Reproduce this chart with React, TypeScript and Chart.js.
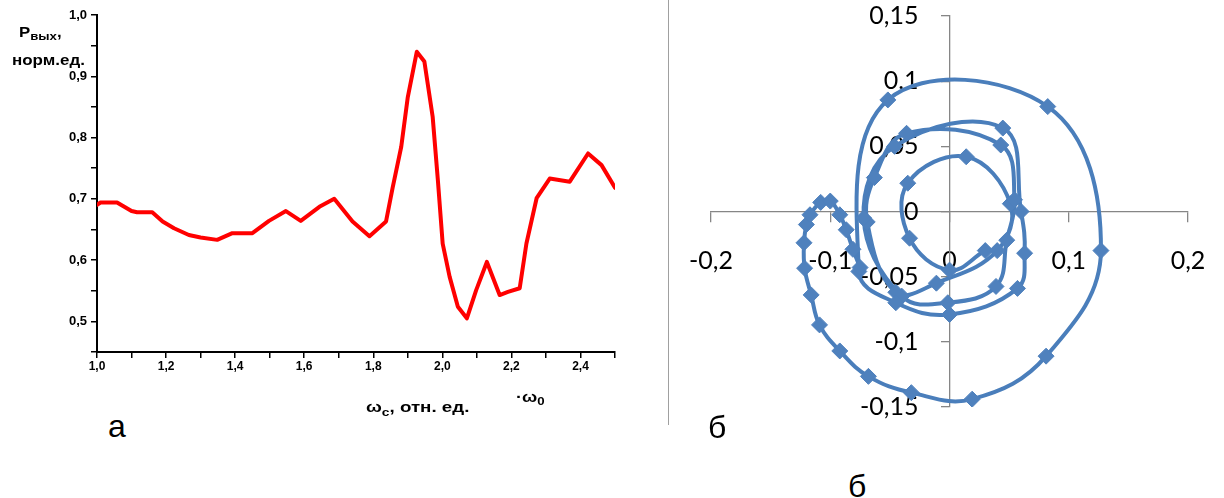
import React, { useEffect, useRef } from "react";
import { Chart, registerables } from "chart.js";

Chart.register(...registerables);

// ---------- Left chart (а): output power vs. signal frequency ----------
const freq = [
  1.0, 1.01, 1.058, 1.1, 1.116, 1.16, 1.19, 1.223, 1.266, 1.3, 1.348, 1.392,
  1.45, 1.498, 1.547, 1.59, 1.644, 1.687, 1.74, 1.789, 1.837, 1.856, 1.881,
  1.9, 1.926, 1.948, 1.972, 1.987, 2.001, 2.021, 2.045, 2.071, 2.098, 2.129,
  2.166, 2.19, 2.224, 2.2435, 2.273, 2.311, 2.369, 2.422, 2.461, 2.5,
];
const power = [
  0.69, 0.694, 0.694, 0.68, 0.678, 0.678, 0.663, 0.652, 0.641, 0.637, 0.633,
  0.644, 0.644, 0.664, 0.68, 0.664, 0.687, 0.7, 0.663, 0.639, 0.663, 0.718,
  0.785, 0.866, 0.94, 0.924, 0.834, 0.731, 0.627, 0.573, 0.524, 0.505, 0.551,
  0.597, 0.543, 0.548, 0.554, 0.627, 0.701, 0.733, 0.728, 0.774, 0.755, 0.718,
];
const leftXTicks = [1.0, 1.1, 1.2, 1.3, 1.4, 1.5, 1.6, 1.7, 1.8, 1.9, 2.0, 2.1, 2.2, 2.3, 2.4, 2.5];
const leftXLabels = ["1,0", "", "1,2", "", "1,4", "", "1,6", "", "1,8", "", "2,0", "", "2,2", "", "2,4", ""];
const leftYTicks = [0.45, 0.5, 0.55, 0.6, 0.65, 0.7, 0.75, 0.8, 0.85, 0.9, 0.95, 1.0];
const leftYLabels = ["", "0,5", "", "0,6", "", "0,7", "", "0,8", "", "0,9", "", "1,0"];

// ---------- Right chart (б): phase portrait ----------
const phaseX = [
  0.030, 0.0, -0.0335, -0.035, 0.014, 0.051, 0.040, -0.011,
  -0.045, -0.069, -0.063, -0.036, 0.043, 0.0545, 0.048, 0.039,
  -0.0014, -0.040, -0.072, -0.046, 0.0447, 0.060, 0.063, 0.057, 0.0, -0.045, -0.076,
  -0.0517, 0.0824, 0.127, 0.081, 0.019, -0.032, -0.068, -0.092, -0.109, -0.116,
  -0.1215, -0.122, -0.12, -0.117, -0.108, -0.1, -0.092, -0.0866, -0.081, -0.075,
];
const phaseY = [
  -0.030, -0.045, -0.0205, 0.0217, 0.042, 0.006, -0.030, -0.055,
  -0.062, -0.008, 0.026, 0.06, 0.051, 0.009, -0.022, -0.0575,
  -0.07, -0.065, -0.005, 0.050, 0.064, 0.0, -0.032, -0.059, -0.079, -0.07, -0.046,
  0.0856, 0.0805, -0.03, -0.111, -0.144, -0.139, -0.1265, -0.107, -0.087, -0.064,
  -0.0435, -0.024, -0.01, -0.0025, 0.007, 0.008, -0.0025, -0.014, -0.029, -0.043,
];
const rightXTicks = [-0.2, -0.1, 0, 0.1, 0.2];
const rightXLabels = ["-0,2", "-0,1", "0", "0,1", "0,2"];
const rightYTicks = [-0.15, -0.1, -0.05, 0, 0.05, 0.1, 0.15];
const rightYLabels = ["-0,15", "-0,1", "-0,05", "0", "0,05", "0,1", "0,15"];

const boldFont = { family: "'Liberation Sans', Arial, sans-serif", size: 12, weight: "bold" as const };
const boldFontY = { family: "'Liberation Sans', Arial, sans-serif", size: 13, weight: "bold" as const };
const excelFont = { family: "Lato, 'Open Sans', sans-serif", size: 25 };

const zeroPad = (s: any) => {
  s.paddingTop = 0;
  s.paddingBottom = 0;
  s.paddingLeft = 0;
  s.paddingRight = 0;
};

function LeftChart() {
  const ref = useRef<HTMLCanvasElement | null>(null);
  useEffect(() => {
    if (!ref.current) return;
    const chart = new Chart(ref.current, {
      type: "line",
      data: {
        datasets: [
          {
            data: freq.map((x, i) => ({ x, y: power[i] })),
            borderColor: "#ff0000",
            borderWidth: 4,
            pointRadius: 0,
            tension: 0,
            borderJoinStyle: "round",
            borderCapStyle: "round",
          },
        ],
      },
      options: {
        animation: false,
        responsive: false,
        maintainAspectRatio: false,
        layout: { padding: { left: 0, top: 15, right: 25, bottom: 0 } },
        plugins: { legend: { display: false }, tooltip: { enabled: false } },
        scales: {
          x: {
            type: "linear",
            min: 1.0,
            max: 2.5,
            afterFit: (s: any) => {
              s.height = 48;
            },
            afterBuildTicks: (s: any) => {
              s.ticks = leftXTicks.map((v) => ({ value: v }));
            },
            ticks: {
              autoSkip: false,
              maxRotation: 0,
              padding: 1,
              color: "#000",
              font: boldFont,
              callback: (_v: any, i: number) => leftXLabels[i],
            },
            grid: { drawOnChartArea: false, drawTicks: true, tickLength: 6, color: "#000", lineWidth: 1.5 },
            border: { display: true, color: "#000", width: 2 },
          },
          y: {
            type: "linear",
            min: 0.45,
            max: 1.0,
            afterFit: (s: any) => {
              s.width = 97;
            },
            afterBuildTicks: (s: any) => {
              s.ticks = leftYTicks.map((v) => ({ value: v }));
            },
            ticks: {
              autoSkip: false,
              padding: 4,
              color: "#000",
              font: boldFontY,
              callback: (_v: any, i: number) => leftYLabels[i],
            },
            grid: { drawOnChartArea: false, drawTicks: true, tickLength: 6, color: "#000", lineWidth: 1.5 },
            border: { display: true, color: "#000", width: 2 },
          },
        },
      },
    });
    return () => chart.destroy();
  }, []);
  return <canvas ref={ref} width={640} height={400} style={{ position: "absolute", left: 0, top: 0, display: "block" }} />;
}

function RightChart() {
  const ref = useRef<HTMLCanvasElement | null>(null);
  useEffect(() => {
    if (!ref.current) return;
    const chart = new Chart(ref.current, {
      type: "scatter",
      data: {
        datasets: [
          {
            data: phaseX.map((x, i) => ({ x, y: phaseY[i] })),
            showLine: true,
            borderColor: "#4A7EBB",
            borderWidth: 4,
            tension: 0.4,
            pointStyle: "rectRot",
            pointRadius: 8,
            pointBackgroundColor: "#4F81BD",
            pointBorderColor: "#4F81BD",
            pointBorderWidth: 1,
          },
        ],
      },
      options: {
        animation: false,
        responsive: false,
        maintainAspectRatio: false,
        layout: { padding: { left: 31, right: 36, top: 16, bottom: 43 } },
        plugins: { legend: { display: false }, tooltip: { enabled: false } },
        scales: {
          x: {
            type: "linear",
            position: "center",
            min: -0.2,
            max: 0.2,
            afterFit: zeroPad,
            afterBuildTicks: (s: any) => {
              s.ticks = rightXTicks.map((v) => ({ value: v }));
            },
            ticks: {
              autoSkip: false,
              maxRotation: 0,
              padding: 24,
              color: "#000",
              font: excelFont,
              callback: (_v: any, i: number) => rightXLabels[i],
            },
            grid: { drawOnChartArea: false, drawTicks: true, tickLength: 10, color: "#868686", lineWidth: 1.3 },
            border: { display: true, color: "#868686", width: 1.3 },
          },
          y: {
            type: "linear",
            position: "center",
            min: -0.15,
            max: 0.15,
            afterFit: zeroPad,
            afterBuildTicks: (s: any) => {
              s.ticks = rightYTicks.map((v) => ({ value: v }));
            },
            ticks: {
              autoSkip: false,
              padding: 23,
              color: "#000",
              font: excelFont,
              callback: (_v: any, i: number) => rightYLabels[i],
            },
            grid: { drawOnChartArea: false, drawTicks: true, tickLength: 8, color: "#868686", lineWidth: 1.3 },
            border: { display: true, color: "#868686", width: 1.3 },
          },
        },
      },
    });
    return () => chart.destroy();
  }, []);
  return <canvas ref={ref} width={544} height={450} style={{ position: "absolute", left: 680, top: 0, display: "block" }} />;
}

const bold: React.CSSProperties = {
  position: "absolute",
  fontFamily: "'Liberation Sans', Arial, sans-serif",
  fontWeight: "bold",
  color: "#000",
  whiteSpace: "nowrap",
  lineHeight: 1,
  transformOrigin: "left top",
};
const big: React.CSSProperties = {
  position: "absolute",
  fontFamily: "'Liberation Sans', Arial, sans-serif",
  fontSize: 32,
  lineHeight: "32px",
  color: "#000",
};

export default function App() {
  return (
    <div style={{ position: "absolute", left: 0, top: 0, width: 1224, height: 498, background: "#fff", overflow: "hidden" }}>
      <LeftChart />
      <RightChart />
      <div style={{ position: "absolute", left: 668, top: 0, width: 1, height: 425, background: "#a0a0a0" }} />
      <div style={{ ...bold, left: 19, top: 25, fontSize: 14, transform: "scaleX(1.2)" }}>
        Р<sub style={{ fontSize: 11, verticalAlign: "-3px" }}>вых</sub>,
      </div>
      <div style={{ ...bold, left: 12, top: 52, fontSize: 15, transform: "scaleX(1.13)" }}>норм.ед.</div>
      <div style={{ ...bold, left: 366, top: 399, fontSize: 15, transform: "scaleX(1.25)" }}>
        ω<sub style={{ fontSize: 11, verticalAlign: "-4px" }}>с</sub>, отн. ед.
      </div>
      <div style={{ ...bold, left: 516, top: 389, fontSize: 15, transform: "scaleX(1.2)" }}>
        ·ω<sub style={{ fontSize: 11, verticalAlign: "-3px" }}>0</sub>
      </div>
      <div style={{ ...big, left: 108, top: 410 }}>а</div>
      <div style={{ ...big, left: 708, top: 411 }}>б</div>
      <div style={{ ...big, left: 848, top: 470 }}>б</div>
    </div>
  );
}
